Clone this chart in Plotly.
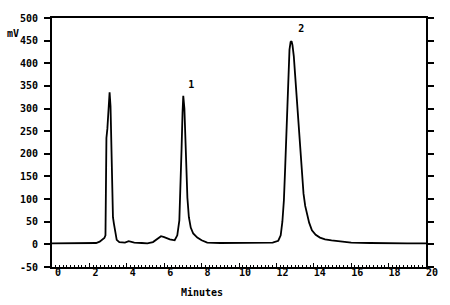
import plotly.graph_objects as go

# Chromatogram trace (time in minutes, signal in mV)
time_min = [0.0, 1.0, 2.0, 2.36, 2.55, 2.7, 2.8, 2.86, 2.91, 2.96, 3.02, 3.08, 3.13, 3.17, 3.2, 3.22,
            3.26, 3.31, 3.38, 3.46, 3.6, 3.9, 4.1, 4.4, 4.8, 5.1, 5.4, 5.65, 5.83, 6.0, 6.3, 6.56,
            6.7, 6.81, 6.88, 6.93, 6.98, 7.02, 7.08, 7.16, 7.24, 7.32, 7.42, 7.55, 7.77, 8.0, 8.3,
            9.0, 10.0, 11.0, 11.8, 12.1, 12.23, 12.32, 12.4, 12.47, 12.53, 12.58, 12.63, 12.7,
            12.76, 12.81, 12.86, 12.93, 13.0, 13.1, 13.19, 13.28, 13.36, 13.45, 13.54, 13.63,
            13.75, 13.9, 14.1, 14.33, 14.6, 14.95, 15.5, 16.0, 17.0, 18.0, 19.0, 20.0]
signal_mv = [2, 2, 2, 3, 6, 10, 14, 20, 235, 255, 300, 336, 305, 225, 150, 75,
             60, 46, 28, 10, 5, 4, 7, 4, 3, 2, 5, 12, 18, 16, 11, 9,
             20, 53, 130, 213, 290, 328, 300, 213, 103, 60, 37, 24, 15, 9, 4,
             3, 3, 3, 4, 8, 20, 50, 97, 170, 244, 320, 390, 430,
             447, 449, 440, 416, 375, 317, 262, 207, 155, 112, 85, 68,
             48, 31, 21, 15, 11, 9, 6, 4, 3, 2, 2, 2]

peak_labels = ["1", "2"]
peak_label_t = [7.45, 13.33]
peak_label_mv = [350, 475]

x_ticks = [0, 2, 4, 6, 8, 10, 12, 14, 16, 18, 20]
y_ticks = [-50, 0, 50, 100, 150, 200, 250, 300, 350, 400, 450, 500]

FONT = dict(family="DejaVu Sans Mono", size=10, color="black", weight="bold")

ML, MR, MT, MB = 52, 17, 17, 38
W, H = 450, 305

fig = go.Figure()
fig.add_trace(go.Scatter(x=time_min, y=signal_mv, mode="lines",
                         line=dict(color="black", width=1.8), hoverinfo="skip"))
fig.add_trace(go.Scatter(x=peak_label_t, y=peak_label_mv, mode="text", text=peak_labels,
                         textfont=FONT, hoverinfo="skip"))

pw = W - ML - MR
ph = H - MT - MB


def px_to_paper(px, py):
    return (px - ML) / pw, (H - MB - py) / ph


mv_x, mv_y = px_to_paper(12, 33)
mn_x, mn_y = px_to_paper(205, 293)

fig.update_layout(
    width=W, height=H,
    margin=dict(l=ML, r=MR, t=MT, b=MB),
    paper_bgcolor="white", plot_bgcolor="white",
    showlegend=False,
    xaxis=dict(range=[0, 20], tickvals=x_ticks, ticktext=[str(v) for v in x_ticks],
               showgrid=False, zeroline=False, showline=True, linecolor="black", linewidth=2,
               mirror=True, ticks="inside", ticklen=4, tickwidth=1, tickcolor="black",
               tickfont=FONT, ticklabelshift=6, ticklabelstandoff=-5,
               minor=dict(dtick=0.2, ticks="inside", ticklen=2, tickcolor="black", showgrid=False)),
    yaxis=dict(range=[-50, 500], tickvals=y_ticks, ticktext=[str(v) for v in y_ticks],
               showgrid=False, zeroline=False, showline=True, linecolor="black", linewidth=2,
               mirror="ticks", ticks="outside", ticklen=6, tickwidth=1.5, tickcolor="black",
               tickfont=FONT, ticklabelstandoff=4),
    annotations=[
        dict(text="mV", x=mv_x, y=mv_y, xref="paper", yref="paper", showarrow=False,
             font=FONT, xanchor="center", yanchor="middle"),
        dict(text="Minutes", x=mn_x, y=mn_y, xref="paper", yref="paper", showarrow=False,
             font=FONT, xanchor="center", yanchor="middle"),
    ],
)

fig.write_html("out.html")
